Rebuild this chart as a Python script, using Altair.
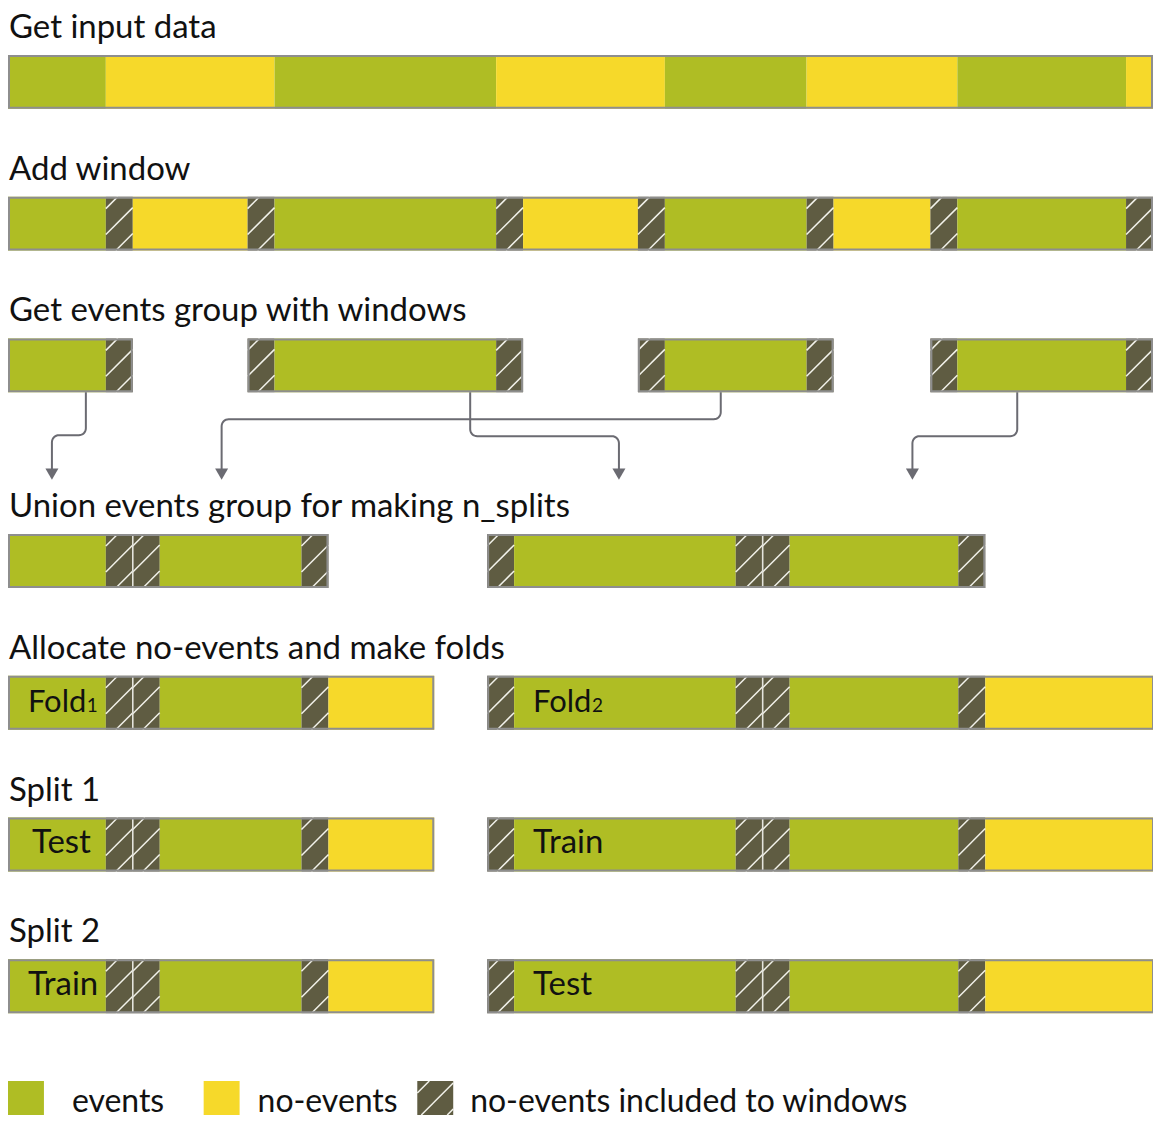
import math
import altair as alt
import pandas as pd

# ---------------- data (timeline units, 1 unit = 1 px) ----------------
GREEN = "#afbd24"
YELLOW = "#f6d92a"
HATCH = "#5f5c42"
BORDER = "#8e8e8e"
ARROW = "#6b6b72"
KIND_COLOR = {"E": GREEN, "N": YELLOW, "W": HATCH}

titles = [
    "Get input data",
    "Add window",
    "Get events group with windows",
    "Union events group for making n_splits",
    "Allocate no-events and make folds",
    "Split 1",
    "Split 2",
]

WIN = 27  # window length

# each row: list of groups (start, [(kind, length), ...]); E=events, N=no-events, W=window
rows = [
    [(0, [("E", 98), ("N", 169), ("E", 222), ("N", 169), ("E", 142), ("N", 151), ("E", 169), ("N", 27)])],
    [(0, [("E", 98), ("W", WIN), ("N", 115), ("W", WIN), ("E", 222), ("W", WIN), ("N", 115), ("W", WIN),
          ("E", 142), ("W", WIN), ("N", 97), ("W", WIN), ("E", 169), ("W", WIN)])],
    [(0, [("E", 98), ("W", WIN)]),
     (240, [("W", WIN), ("E", 222), ("W", WIN)]),
     (631, [("W", WIN), ("E", 142), ("W", WIN)]),
     (924, [("W", WIN), ("E", 169), ("W", WIN)])],
    [(0, [("E", 98), ("W", WIN), ("W", WIN), ("E", 142), ("W", WIN)]),
     (480, [("W", WIN), ("E", 222), ("W", WIN), ("W", WIN), ("E", 169), ("W", WIN)])],
    [(0, [("E", 98), ("W", WIN), ("W", WIN), ("E", 142), ("W", WIN), ("N", 106)]),
     (480, [("W", WIN), ("E", 222), ("W", WIN), ("W", WIN), ("E", 169), ("W", WIN), ("N", 169)])],
    [(0, [("E", 98), ("W", WIN), ("W", WIN), ("E", 142), ("W", WIN), ("N", 106)]),
     (480, [("W", WIN), ("E", 222), ("W", WIN), ("W", WIN), ("E", 169), ("W", WIN), ("N", 169)])],
    [(0, [("E", 98), ("W", WIN), ("W", WIN), ("E", 142), ("W", WIN), ("N", 106)]),
     (480, [("W", WIN), ("E", 222), ("W", WIN), ("W", WIN), ("E", 169), ("W", WIN), ("N", 169)])],
]

# labels inside bars: (row, group, main text, subscript)
bar_labels = [
    (4, 0, "Fold", "1"), (4, 1, "Fold", "2"),
    (5, 0, "Test", ""), (5, 1, "Train", ""),
    (6, 0, "Train", ""), (6, 1, "Test", ""),
]

# arrows: (from x, to x, turn level)
arrows = [(78, 44, 427), (463, 612, 428), (714, 214, 411), (1011, 906, 428)]

legend_items = [("E", "events"), ("N", "no-events"), ("W", "no-events included to windows")]

# ---------------- layout ----------------
W_TOTAL, H_TOTAL = 1147, 1108
row_tops = [46, 188, 330, 526, 668, 810, 952]
BAR_H = 54
FONT = "Lato"

seg_recs, border_recs, hatch_recs, sep_recs = [], [], [], []


def add_hatch(x0, y0, w, h):
    c = 12
    while c < w + h:
        xa = max(0, c - h)
        xb = min(w, c)
        if xb > xa:
            hatch_recs.append({"x": x0 + xa, "y": y0 + (c - xa), "x2": x0 + xb, "y2": y0 + (c - xb)})
        c += 26


group_pos = {}
for ri, groups in enumerate(rows):
    top = row_tops[ri]
    for gi, (start, segs) in enumerate(groups):
        x = start
        prev = None
        for kind, length in segs:
            seg_recs.append({"x": x, "x2": x + length, "y": top, "y2": top + BAR_H, "fill": KIND_COLOR[kind]})
            if kind == "W":
                add_hatch(x, top, length, BAR_H)
                if prev == "W":
                    sep_recs.append({"x": x, "y": top + 1, "y2": top + BAR_H - 1})
            prev = kind
            x += length
        border_recs.append({"x": start + 1, "x2": x - 1, "y": top + 1, "y2": top + BAR_H - 1})
        group_pos[(ri, gi)] = start

# legend
LEG_Y = 1074
leg_x = [0, 196, 410]
leg_text_x = [64, 250, 463]
leg_text = []
for (kind, label), lx, tx in zip(legend_items, leg_x, leg_text_x):
    seg_recs.append({"x": lx, "x2": lx + 36, "y": LEG_Y, "y2": LEG_Y + 34, "fill": KIND_COLOR[kind]})
    if kind == "W":
        add_hatch(lx, LEG_Y, 36, 34)
    leg_text.append({"x": tx, "y": LEG_Y + 31, "text": label})

title_df = pd.DataFrame([{"x": 1, "y": row_tops[i] - 17, "text": t} for i, t in enumerate(titles)])

label_main, label_fold, label_sub = [], [], []
for ri, gi, txt, sub in bar_labels:
    gx = group_pos[(ri, gi)]
    off = 24 if txt == "Test" and gi == 0 else 20
    if gi == 1:
        off = 46
    rec = {"x": gx + off, "y": row_tops[ri] + 36, "text": txt}
    if sub:
        label_fold.append(rec)
        label_sub.append({"x": gx + off + 59, "y": row_tops[ri] + 36, "text": sub})
    else:
        label_main.append(rec)

# arrows
arrow_pts, arrow_heads = [], []
R = 7
Y_START, Y_END, HEAD_Y = 384, 461, 466
for ai, (xf, xt, L) in enumerate(arrows):
    s = 1 if xt > xf else -1
    pts = [(xf, Y_START)]
    c1 = (xf + s * R, L - R)
    for k in range(9):
        t = k / 8 * math.pi / 2
        pts.append((c1[0] - s * R * math.cos(t), c1[1] + R * math.sin(t)))
    c2 = (xt - s * R, L + R)
    for k in range(9):
        t = k / 8 * math.pi / 2
        pts.append((c2[0] + s * R * math.sin(t), c2[1] - R * math.cos(t)))
    pts.append((xt, Y_END))
    for k, (px, py) in enumerate(pts):
        arrow_pts.append({"id": ai, "ord": k, "x": px, "y": py})
    arrow_heads.append({"x": xt, "y": HEAD_Y})

# ---------------- chart ----------------
xs = alt.Scale(domain=[0, W_TOTAL], nice=False, zero=False)
ys = alt.Scale(domain=[0, H_TOTAL], nice=False, zero=False, reverse=True)
X = lambda f="x": alt.X(f"{f}:Q", scale=xs, axis=None)
Y = lambda f="y": alt.Y(f"{f}:Q", scale=ys, axis=None)

segs = alt.Chart(pd.DataFrame(seg_recs)).mark_rect().encode(
    x=X(), x2="x2:Q", y=Y(), y2="y2:Q", color=alt.Color("fill:N", scale=None)
)
hatch = alt.Chart(pd.DataFrame(hatch_recs)).mark_rule(color="#f2f2ea", strokeWidth=1.5).encode(
    x=X(), y=Y(), x2="x2:Q", y2="y2:Q"
)
seps = alt.Chart(pd.DataFrame(sep_recs)).mark_rule(color="#e4e4dc", strokeWidth=1.6).encode(
    x=X(), y=Y(), y2="y2:Q"
)
borders = alt.Chart(pd.DataFrame(border_recs)).mark_rect(
    fillOpacity=0, stroke=BORDER, strokeWidth=2
).encode(x=X(), x2="x2:Q", y=Y(), y2="y2:Q")

lines = alt.Chart(pd.DataFrame(arrow_pts)).mark_line(color=ARROW, strokeWidth=2).encode(
    x=X(), y=Y(), detail="id:N", order="ord:Q"
)
heads = alt.Chart(pd.DataFrame(arrow_heads)).mark_point(
    shape="triangle-down", filled=True, color=ARROW, opacity=1, size=170
).encode(x=X(), y=Y())


def text_layer(df, size):
    return alt.Chart(pd.DataFrame(df)).mark_text(
        align="left", baseline="alphabetic", font=FONT, fontSize=size, color="#111111"
    ).encode(x=X(), y=Y(), text="text:N")


titles_l = text_layer(title_df, 33)
labels_l = text_layer(label_main, 33)
fold_l = text_layer(label_fold, 31)
subs_l = text_layer(label_sub, 19)
leg_l = text_layer(leg_text, 32)

chart = alt.layer(
    segs, hatch, seps, borders, lines, heads, titles_l, labels_l, fold_l, subs_l, leg_l
).properties(
    width=W_TOTAL, height=H_TOTAL, padding=0,
    autosize=alt.AutoSizeParams(type="none"),
).configure_view(stroke=None)

chart.save("out.html", embed_options={"renderer": "svg", "actions": False})
